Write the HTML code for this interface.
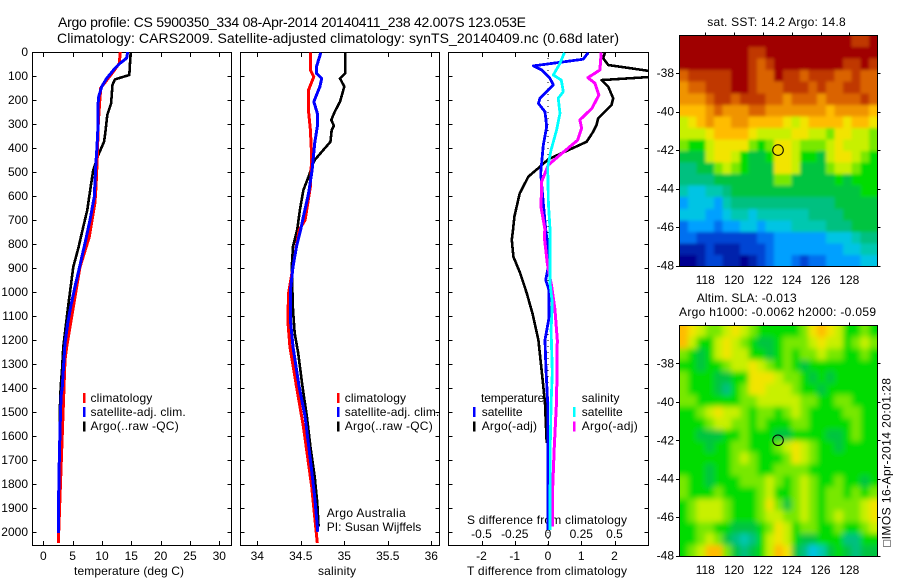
<!DOCTYPE html>
<html>
<head>
<meta charset="utf-8">
<title>Argo profile</title>
<style>
html,body{margin:0;padding:0;background:#fff;}
svg{display:block;}
text{font-family:"Liberation Sans",sans-serif;font-size:12px;fill:#000;}
</style>
</head>
<body>
<svg id="chart" xmlns="http://www.w3.org/2000/svg" width="900" height="580" viewBox="0 0 900 580">
<defs>
<clipPath id="clipT"><rect x="32.5" y="52" width="198.5" height="493"/></clipPath>
<clipPath id="clipS"><rect x="240" y="52" width="199" height="493"/></clipPath>
<clipPath id="clipD"><rect x="448.5" y="52" width="199.5" height="493"/></clipPath>
<clipPath id="clipM1"><rect x="679.5" y="35.5" width="198" height="231"/></clipPath>
<clipPath id="clipM2"><rect x="679.5" y="325.5" width="198" height="231"/></clipPath>
<filter id="smooth" filterUnits="userSpaceOnUse" x="640" y="290" width="260" height="290"><feGaussianBlur stdDeviation="3"/></filter>
<filter id="smoothLight" filterUnits="userSpaceOnUse" x="640" y="10" width="260" height="280"><feGaussianBlur stdDeviation="1.6"/></filter>
</defs>
<text x="58" y="27" font-size="14" style="font-size:14px" textLength="468" lengthAdjust="spacing">Argo profile: CS 5900350_334 08-Apr-2014 20140411_238 42.007S 123.053E</text>
<text x="57" y="43" style="font-size:14px" textLength="562" lengthAdjust="spacing">Climatology: CARS2009. Satellite-adjusted climatology: synTS_20140409.nc (0.68d later)</text>
<text x="74" y="575" textLength="110" lengthAdjust="spacing">temperature (deg C)</text>
<text x="318" y="575" textLength="38" lengthAdjust="spacing">salinity</text>
<text x="467" y="575" textLength="160" lengthAdjust="spacing">T difference from climatology</text>
<text x="467" y="524" textLength="160" lengthAdjust="spacing">S difference from climatology</text>
<text x="326.7" y="517" textLength="79" lengthAdjust="spacing">Argo Australia</text>
<text x="326.7" y="531" textLength="94.6" lengthAdjust="spacing">PI: Susan Wijffels</text>
<text x="707.3" y="26" textLength="138.4" lengthAdjust="spacing">sat. SST: 14.2 Argo: 14.8</text>
<text x="696.7" y="302" textLength="100" lengthAdjust="spacing">Altim. SLA: -0.013</text>
<text x="679" y="316" textLength="197" lengthAdjust="spacing">Argo h1000: -0.0062 h2000: -0.059</text>
<text transform="translate(890.5,547) rotate(-90)" textLength="169" lengthAdjust="spacing">&#9633;IMOS 16-Apr-2014 20:01:28</text>
<g id="layer"></g>
</svg>
<script>
// ---- axis tick labels ----
const depthTicks = [0,100,200,300,400,500,600,700,800,900,1000,1100,1200,1300,1400,1500,1600,1700,1800,1900,2000];
const tempTicks = [0,5,10,15,20,25,30];
const salTicks = [34,34.5,35,35.5,36];
const salTickLabels = ['34','34.5','35','35.5','36'];
const tDiffTicks = [-2,-1,0,1,2];
const sDiffTicks = [-0.5,-0.25,0,0.25,0.5];
const sDiffLabels = ['-0.5','-0.25','0','0.25','0.5'];
const lonTicks = [118,120,122,124,126,128];
const latTicks = [-38,-40,-42,-44,-46,-48];

// ---- temperature profiles ----
const climTempDepth = [0,47,82,150,214,296,437,562,630,770,896,1228,1283,2046];
const climTemp = [13.13,12.96,11.93,9.78,9.6,9.37,9.2,8.98,8.8,7.84,6.26,3.99,3.7,2.56];
const satTempDepth = [0,26,47,68,110,144,192,311,394,478,603,700,797,888,978,1061,1131,1214,1325,1394,1436,1575,1755,1963,2005];
const satTemp = [14.38,14.2,13.07,12.2,10.8,9.95,9.37,9.32,9.15,8.93,8.69,7.96,7.1,6.26,5.4,4.67,4.16,3.7,3.41,3.24,3.02,2.85,2.68,2.56,2.56];
const argoTempDepth = [0,96,114,137,214,262,338,374,429,492,575,658,728,818,895,978,1054,1144,1228,1325,1394,1505,1825];
const argoTemp = [14.9,14.66,12.2,11.8,11.55,10.9,10.57,10.35,9.37,8.5,8.0,7.5,6.82,5.97,5.11,4.67,4.26,3.82,3.41,3.19,2.96,2.79,2.85];

// ---- salinity profiles ----
const climSalDepth = [3,75,103,158,249,325,436,561,700,742,896,1004,1117,1228,1394,1561,1811,2046];
const climSal = [34.61,34.61,34.65,34.59,34.59,34.61,34.625,34.61,34.55,34.48,34.41,34.36,34.35,34.375,34.45,34.53,34.625,34.69];
const satSalDepth = [3,61,89,110,144,207,255,311,380,492,589,686,738,811,894,992,1117,1228,1394,1519,1700,1853,1999];
const satSal = [34.73,34.68,34.68,34.74,34.72,34.65,34.69,34.69,34.66,34.63,34.59,34.53,34.5,34.45,34.41,34.38,34.38,34.41,34.48,34.55,34.61,34.66,34.695];
const argoSalDepth = [3,89,110,144,207,249,283,308,325,374,450,464,519,575,658,738,811,900,1075,1172,1255,1394,1519,1644,1769,1880,1978];
const argoSal = [35.01,35.01,34.95,35.0,34.95,34.89,34.85,34.88,34.855,34.84,34.66,34.64,34.59,34.53,34.49,34.46,34.41,34.395,34.41,34.43,34.47,34.52,34.57,34.61,34.66,34.69,34.705];

// ---- difference profiles ----
const satDiffTDepth = [3,30,58,75,110,137,193,214,249,311,388,505,630,738,811,894,950,992,1108,1200,1325,1463,1603,1992];
const satDiffT = [1.21,1.06,-0.44,-0.19,0.06,0.16,-0.24,-0.29,-0.09,-0.04,-0.14,-0.22,-0.14,-0.07,-0.01,0.01,-0.07,0.03,0.03,-0.09,-0.06,-0.01,-0.01,-0.01];
const argoDiffTDepth = [3,26,54,82,90,103,117,144,193,221,276,304,332,374,447,478,519,589,686,738,783,853,921,1004,1088,1200,1353,1463,1629];
const argoDiffT = [1.71,1.66,1.81,3.2,3.6,3.2,1.61,1.81,1.96,1.91,1.51,1.46,1.36,1.16,0.01,-0.24,-0.59,-0.85,-1.01,-1.05,-1.09,-1.04,-0.84,-0.64,-0.47,-0.29,-0.17,-0.09,-0.04];
const satDiffSDepth = [3,47,96,117,165,193,255,325,408,478,630,738,963,1046,1158,1338,1463,1629,1992];
const satDiffS = [0.123,0.09,0.04,0.10,0.115,0.077,0.09,0.065,0.023,-0.002,0.003,0.015,0.015,0.032,0.023,0.032,0.023,0.017,0.015];
const argoDiffSDepth = [3,75,107,130,179,235,283,317,367,429,471,540,645,738,770,880,978,1075,1200,1450,1644,1853,1978];
const argoDiffS = [0.40,0.39,0.30,0.353,0.383,0.33,0.24,0.253,0.223,0.09,0.002,-0.047,-0.053,-0.023,-0.028,-0.005,0.028,0.053,0.07,0.065,0.047,0.032,0.032];

// ---- map grids: one letter per cell, a = warmest/highest, r = coldest/lowest ----
const levelColors = {a:'#a00000',b:'#c03800',c:'#da6400',d:'#f09400',e:'#ffbc00',f:'#f2e400',g:'#c8f000',h:'#78e800',i:'#00dc00',j:'#00c440',k:'#00c080',l:'#00c8b0',m:'#00c4e4',n:'#00a0ff',o:'#0070f0',p:'#0044d4',q:'#0024ac',r:'#000090'};
const sstGrid = [
'aaaaaaaaaaaaaaaaaaaabba',
'aaaaaaaabbaaaaaaaaaaaaa',
'aaaaaaaabcbaaaaaaaabbab',
'cbbbbbaabccabbcbbbccbcc',
'dccbbbaabcccbbbcbccbbcc',
'dddcbbcbbbccdcccdccccbc',
'eeedcdddccdddddddedddde',
'gfedeeddeeeefgfeeeefeef',
'gggfeeeefggggffgghffggh',
'hiigffffhihffghhhgfgggh',
'jjjgffgijjiffgiijgffghi',
'kkjjhghijjjffgjjjhgghii',
'kkkkjjjjjjjhhjjjjjijiii',
'lmmllkjjjjjjjjjjjjjjjii',
'nmmmnlkkkkkkkkkkkkjjjjj',
'mmmnnmllmllllllkkkkjjjj',
'onnnonnmmnmmmllllkkkjjj',
'oopppppppoonnnnnnmmmlkk',
'qqqpqqqppponnnnnnnnmmll',
'rrqppqqrqponnopoonnnnmm'
];
const slaGrid = [
'efghhgfghiiiiihfefgiihi',
'egiigfghijjihhhgfggihgh',
'hijigfggiijihihhghhiihi',
'iijiihggfghihijiiiiiiii',
'hiiijjiifffghhijijiiiii',
'hiiijkihffggghiijiiiiii',
'hhiiiiihhggggghhiihhiii',
'iihgfgghihhihghiiiihhii',
'iiihgghhihiiihhiiiiihii',
'iijjjiihiiijjiiiijjihii',
'iiijiihhiiihgfghiijiiii',
'iiiiiihghiiihfghiiiiiii',
'iiijiihhhiihhhhiiiiiiii',
'hiijiiihhhghihghiihiiji',
'hiiihiiiihgiihghihhihih',
'ihggghiiihfhjhghihhhhgf',
'ihggghiiihgghhghihghhgf',
'iihhiijjjihfgihhiihiihg',
'iihghjklkigfgijjiiikkii',
'ihgeehjkjigefjkmljijkjj'
];
const floatLon = 123.05;
const floatLat = -42;

// ---- axis functions ----
const depthY = d => 52 + d * 0.24;
const tempX = t => 43.3 + t * 5.867;
const salX = s => 257.3 + (s - 34) * 87;
const tDiffX = t => 548 + t * 33.25;
const sDiffX = s => 548 + s * 133;
const lonX = l => 705.3 + (l - 118) * 14.4;
const lat1Y = l => 73 + (-38 - l) * 19.27;
const lat2Y = l => 363.3 + (-38 - l) * 19.24;

const NS = 'http://www.w3.org/2000/svg';
const layer = document.getElementById('layer');
function mk(tag, attrs, parent) {
  const el = document.createElementNS(NS, tag);
  for (const k in attrs) el.setAttribute(k, attrs[k]);
  (parent || layer).appendChild(el);
  return el;
}
function label(x, y, str, anchor, name, parent) {
  const el = mk('text', {x: x, y: y, 'text-anchor': anchor}, parent);
  el.textContent = str;
  
  
  return el;
}
function profile(depths, values, xf, color, width, clip, name) {
  const pts = depths.map((d, i) => xf(values[i]).toFixed(1) + ',' + depthY(d).toFixed(1)).join(' ');
  const el = mk('polyline', {points: pts, fill: 'none', stroke: color, 'stroke-width': width, 'clip-path': 'url(#' + clip + ')', 'stroke-linejoin': 'round', 'shape-rendering': 'crispEdges'});
  
  
}
function frame(x0, y0, x1, y1, name) {
  const el = mk('rect', {x: x0, y: y0, width: x1 - x0, height: y1 - y0, fill: 'none', stroke: '#000', 'stroke-width': 1, 'shape-rendering': 'crispEdges'});
  
  
}
function tick(x1, y1, x2, y2, name) {
  const el = mk('line', {x1: x1, y1: y1, x2: x2, y2: y2, stroke: '#000', 'stroke-width': 1, 'shape-rendering': 'crispEdges'});
  
  
}
function legendMark(x, y, color, name) {
  const el = mk('rect', {x: x - 1, y: y, width: 2.5, height: 10, fill: color});
  
  
}
function legendText(x, y, str, len, name) {
  const el = label(x, y, str, 'start', name);
  el.setAttribute('textLength', len);
  el.setAttribute('lengthAdjust', 'spacing');
}

// ---- panel frames and ticks ----
const panels = [
  {x0: 32.5, x1: 231.5, name: 'temperature-panel', f: tempX, t: tempTicks},
  {x0: 240.5, x1: 439.5, name: 'salinity-panel', f: salX, t: salTicks},
  {x0: 448.5, x1: 648.5, name: 'difference-panel', f: tDiffX, t: tDiffTicks}
];
panels.forEach(p => {
  frame(p.x0, 52.5, p.x1, 545.5, p.name);
  depthTicks.forEach(d => {
    const y = Math.round(depthY(d)) + 0.5;
    tick(p.x0, y, p.x0 + 4, y, p.name + '-left-tick');
    tick(p.x1 - 4, y, p.x1, y, p.name + '-right-tick');
  });
  p.t.forEach(v => {
    const x = Math.round(p.f(v)) + 0.5;
    tick(x, 52.5, x, 57, p.name + '-top-tick');
    tick(x, 541, x, 545.5, p.name + '-bottom-tick');
  });
});
depthTicks.forEach(d => label(28, depthY(d) + 4, String(d), 'end', 'depth-tick-label'));
tempTicks.forEach(v => label(tempX(v), 560, String(v), 'middle', 'temperature-tick-label'));
salTicks.forEach((v, i) => label(salX(v), 560, salTickLabels[i], 'middle', 'salinity-tick-label'));
tDiffTicks.forEach(v => label(tDiffX(v), 560, String(v), 'middle', 't-difference-tick-label'));
sDiffTicks.forEach((v, i) => label(sDiffX(v), 538, sDiffLabels[i], 'middle', 's-difference-tick-label'));

// ---- zero line in difference panel ----
const zeroLine = mk('line', {x1: tDiffX(0), y1: 52, x2: tDiffX(0), y2: 545, stroke: '#000', 'stroke-width': 1, 'stroke-dasharray': '1 5', 'shape-rendering': 'crispEdges'});



// ---- series ----
profile(argoTempDepth, argoTemp, tempX, '#000', 2.6, 'clipT', 'argo-temperature-line');
profile(climTempDepth, climTemp, tempX, '#f00', 3, 'clipT', 'climatology-temperature-line');
profile(satTempDepth, satTemp, tempX, '#00f', 3, 'clipT', 'satellite-temperature-line');
profile(argoSalDepth, argoSal, salX, '#000', 2.6, 'clipS', 'argo-salinity-line');
profile(climSalDepth, climSal, salX, '#f00', 3, 'clipS', 'climatology-salinity-line');
profile(satSalDepth, satSal, salX, '#00f', 3, 'clipS', 'satellite-salinity-line');
profile(argoDiffTDepth, argoDiffT, tDiffX, '#000', 2.6, 'clipD', 'argo-t-difference-line');
profile(satDiffTDepth, satDiffT, tDiffX, '#00f', 2.8, 'clipD', 'satellite-t-difference-line');
profile(argoDiffSDepth, argoDiffS, sDiffX, '#f0f', 3, 'clipD', 'argo-s-difference-line');
profile(satDiffSDepth, satDiffS, sDiffX, '#0ff', 2.8, 'clipD', 'satellite-s-difference-line');

// ---- legends ----
legendMark(84, 393, '#f00', 'legend-climatology-swatch');
legendMark(84, 407, '#00f', 'legend-satellite-swatch');
legendMark(84, 421.5, '#000', 'legend-argo-swatch');
legendText(90.5, 402, 'climatology', 61.8, 'legend-climatology');
legendText(90.5, 416, 'satellite-adj. clim.', 95.2, 'legend-satellite');
legendText(90.5, 430, 'Argo(..raw -QC)', 88.2, 'legend-argo');
legendMark(338, 393, '#f00', 'legend-climatology-swatch');
legendMark(338, 407, '#00f', 'legend-satellite-swatch');
legendMark(338, 421.5, '#000', 'legend-argo-swatch');
legendText(344.7, 402, 'climatology', 61.3, 'legend-climatology');
legendText(344.7, 416, 'satellite-adj. clim.', 94.6, 'legend-satellite');
legendText(344.7, 430, 'Argo(..raw -QC)', 88, 'legend-argo');
legendText(481, 402, 'temperature', 63.3, 'legend-temperature-heading');
legendText(481.7, 416, 'satellite', 40.8, 'legend-temperature-satellite');
legendText(481.7, 430, 'Argo(-adj)', 55.3, 'legend-temperature-argo');
legendText(581.7, 402, 'salinity', 37.8, 'legend-salinity-heading');
legendText(581.7, 416, 'satellite', 41, 'legend-salinity-satellite');
legendText(581.7, 430, 'Argo(-adj)', 56, 'legend-salinity-argo');
legendMark(474, 407, '#00f', 'legend-temperature-satellite-swatch');
legendMark(474, 421.5, '#000', 'legend-temperature-argo-swatch');
legendMark(574, 407, '#0ff', 'legend-salinity-satellite-swatch');
legendMark(574, 421.5, '#f0f', 'legend-salinity-argo-swatch');

// ---- maps ----
function drawMap(grid, top, bottom, clip, filterId, cellName) {
  const left = 679.5, right = 877.5;
  const outer = mk('g', {'clip-path': 'url(#' + clip + ')'});
  
  
  const inner = mk('g', {filter: 'url(#' + filterId + ')'}, outer);
  const rows = grid.length, cols = grid[0].length;
  const cw = (right - left) / cols, ch = (bottom - top) / rows;
  const pad = 14;
  grid.forEach((row, r) => {
    for (let c = 0; c < cols; c++) {
      const x0 = left + c * cw - (c === 0 ? pad : 0);
      const y0 = top + r * ch - (r === 0 ? pad : 0);
      const x1 = left + (c + 1) * cw + (c === cols - 1 ? pad : 0.4);
      const y1 = top + (r + 1) * ch + (r === rows - 1 ? pad : 0.4);
      const cell = mk('rect', {x: x0.toFixed(2), y: y0.toFixed(2), width: (x1 - x0).toFixed(2), height: (y1 - y0).toFixed(2), fill: levelColors[row[c]], 'shape-rendering': 'crispEdges'}, inner);
      
      
    }
  });
}
drawMap(sstGrid, 35.5, 266.5, 'clipM1', 'smoothLight', 'sst-cell');
drawMap(slaGrid, 325.5, 556.5, 'clipM2', 'smooth', 'sla-cell');

function mapAxes(top, bottom, latY, labelBase, prefix) {
  frame(679.5, top, 877.5, bottom, prefix + '-map-frame');
  lonTicks.forEach(l => {
    const x = Math.round(lonX(l)) + 0.5;
    tick(x, top - 3, x, top, prefix + '-top-tick');
    label(lonX(l), labelBase, String(l), 'middle', prefix + '-longitude-label');
  });
  latTicks.forEach(l => {
    const y = Math.round(latY(l)) + 0.5;
    tick(676, y, 679.5, y, prefix + '-left-tick');
    tick(877.5, y, 880.5, y, prefix + '-right-tick');
    label(674, latY(l) + 4, String(l), 'end', prefix + '-latitude-label');
  });
}
mapAxes(35.5, 266.5, lat1Y, 284, 'sst');
mapAxes(325.5, 556.5, lat2Y, 574, 'sla');

const m1 = mk('circle', {cx: lonX(floatLon), cy: lat1Y(floatLat), r: 5.3, fill: '#f0e000', stroke: '#000', 'stroke-width': 1});


const m2 = mk('circle', {cx: lonX(floatLon), cy: lat2Y(floatLat), r: 5.3, fill: 'none', stroke: '#000', 'stroke-width': 1});


</script>
</body>
</html>
